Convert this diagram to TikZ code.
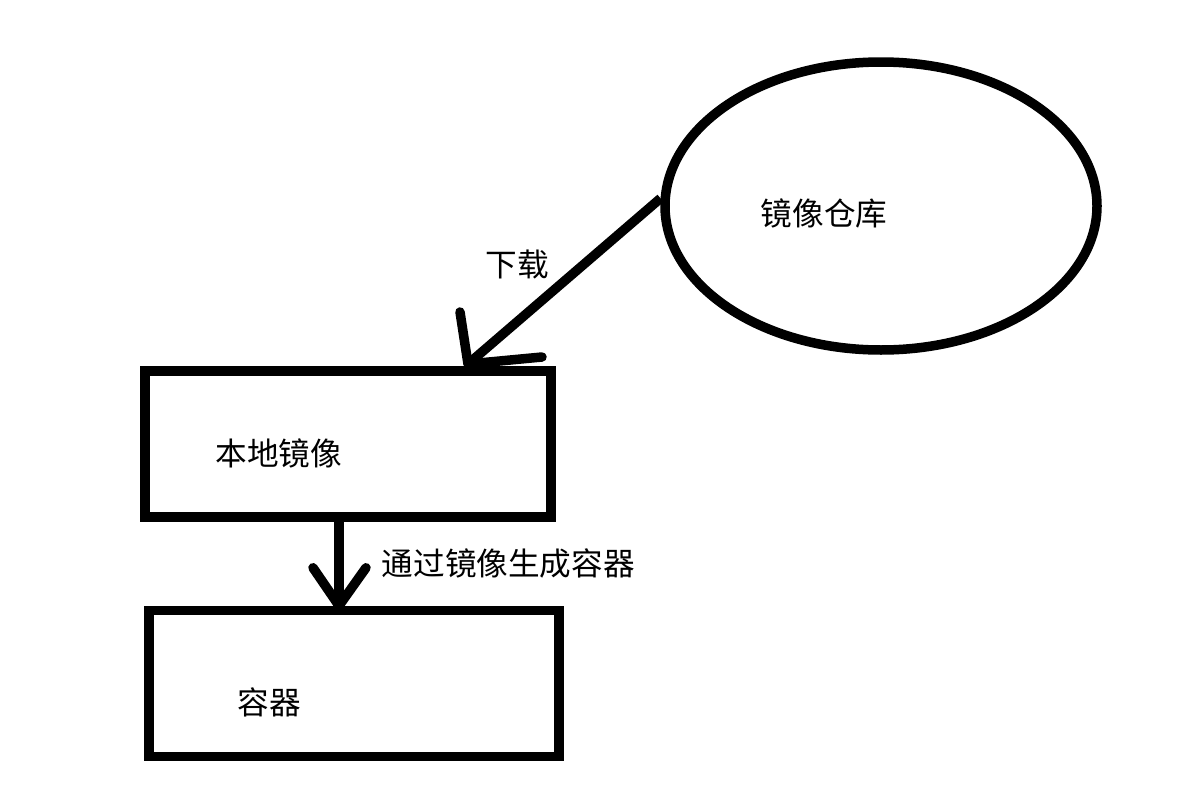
\documentclass[tikz,border=0pt]{standalone}
\usepackage{fontspec}
\setmainfont{Noto Sans CJK SC}
\usetikzlibrary{positioning,shapes.geometric}

\begin{document}
\begin{tikzpicture}[pen/.style={line width=0.19cm},
  box/.style={draw,pen,rectangle,inner sep=0,minimum width=#1,minimum height=2.92cm},
  txt/.style={inner sep=0,font=\fontsize{18}{18}\selectfont},
  barb/.style={pen,line cap=round,line join=round}]
\useasboundingbox (0,0) rectangle (23.64,-15.76);
\node[draw,pen,ellipse,inner sep=0,minimum width=8.64cm,minimum height=5.76cm] (repo) at (17.62,-4.12) {};
\node[txt] (repotext) at ([xshift=-1.14cm,yshift=-0.14cm]repo.center) {镜像仓库};
\node[box=8.12cm] (local) at (6.96,-8.88) {};
\node[txt,right=1.5cm of local.west,yshift=-0.18cm] (localtext) {本地镜像};
\node[box=8.2cm,below=1.68cm of local,xshift=0.12cm] (ctr) {};
\node[txt,right=1.86cm of ctr.west,yshift=-0.38cm] (ctrtext) {容器};
% pull from the repository
\coordinate (dl) at (9.36,-7.28);
\draw[pen] (repo.178) -- node[txt,pos=0.4,left=0.6cm] (dltext) {下载} (dl);
\draw[barb] ([xshift=-0.16cm,yshift=1.04cm]dl) -- (dl) -- ++(1.48,0.14);
% image -> container
\coordinate (mk) at ([xshift=-0.18cm]local.south);
\coordinate (mkend) at (mk |- ctr.north);
\draw[pen] (mk) -- node[txt,right=0.76cm] (mktext) {通过镜像生成容器} (mkend);
\draw[barb] ([shift={(-0.52,0.76)}]mkend) -- (mkend) -- ++(0.54,0.76);
\end{tikzpicture}
\end{document}
